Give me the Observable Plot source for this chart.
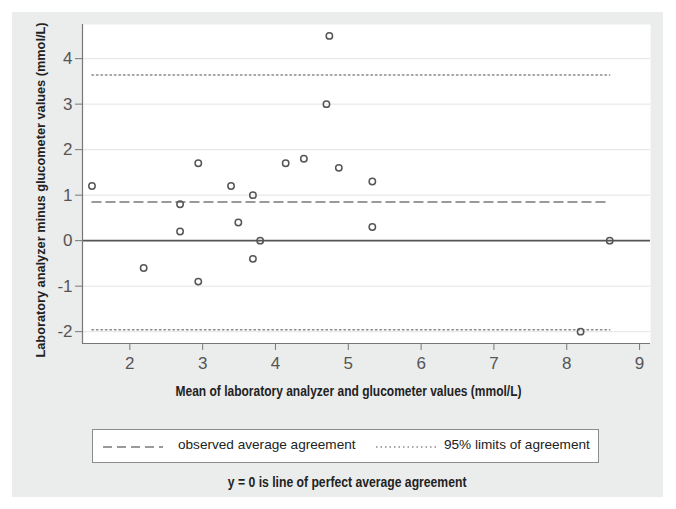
<!DOCTYPE html>
<html><head><meta charset="utf-8">
<script src="https://cdn.jsdelivr.net/npm/d3@7"></script>
<script src="https://cdn.jsdelivr.net/npm/@observablehq/plot@0.6"></script>
<style>
body{margin:0;background:#fff;width:676px;height:509px;position:relative;overflow:hidden;font-family:"Liberation Sans",Arial,sans-serif;}
#panel{position:absolute;left:12px;top:12px;width:651px;height:485px;background:#ebecec;}
#chart{position:absolute;left:0;top:-12px;}
#legend{position:absolute;left:80px;top:417px;width:505px;height:32px;background:#fff;border:1px solid #8c8c8c;}
#legend svg{position:absolute;top:0;left:0;}
.lt{position:absolute;top:7px;font-size:13.6px;color:#222;white-space:nowrap;}
#note{position:absolute;left:0;width:694px;top:474px;text-align:center;font-family:"Liberation Sans",Arial,sans-serif;font-weight:bold;font-size:14px;color:#222;}
#note span{display:inline-block;transform:scaleX(0.87);transform-origin:center;}
</style></head>
<body>
<div id="panel">
  <div id="chart"></div>
  <div id="legend">
    <svg width="505" height="32">
      <line x1="10" x2="70" y1="17" y2="17" stroke="#7a7a7a" stroke-width="1.5" stroke-dasharray="9,5"/>
      <line x1="283" x2="343" y1="17" y2="17" stroke="#8a8a8a" stroke-width="1.5" stroke-dasharray="1.5,3"/>
    </svg>
    <div class="lt" style="left:85px">observed average agreement</div>
    <div class="lt" style="left:351px">95% limits of agreement</div>
  </div>
</div>
<div id="note"><span>y = 0 is line of perfect average agreement</span></div>
<script>
// Data
const meanVals = [1.48, 2.19, 2.69, 2.69, 2.94, 2.94, 3.39, 3.49, 3.69, 3.69, 3.79, 4.14, 4.39, 4.70, 4.74, 4.87, 5.33, 5.33, 8.19, 8.59];
const diffVals = [1.2, -0.6, 0.8, 0.2, 1.7, -0.9, 1.2, 0.4, 1.0, -0.4, 0.0, 1.7, 1.8, 3.0, 4.5, 1.6, 1.3, 0.3, -2.0, 0.0];
const meanDiff = 0.85;
const limits = [3.64, -1.96];
const xTicks = [2, 3, 4, 5, 6, 7, 8, 9];
const yTicks = [-2, -1, 0, 1, 2, 3, 4];
const xTitle = "Mean of laboratory analyzer and glucometer values (mmol/L)";
const yTitle = "Laboratory analyzer minus glucometer values (mmol/L)";

const points = meanVals.map((m, i) => ({m, d: diffVals[i]}));
const [x0, x1] = d3.extent(meanVals);
const xDomain = [1.35, 9.15];
const yDomain = [-2.26, 4.75];
const seg = (y) => [{x: x0, y}, {x: x1, y}];
const fmt = d => String(d);

const chart = Plot.plot({
  width: 651,
  height: 412,
  marginLeft: 70,
  marginTop: 24,
  marginRight: 13,
  marginBottom: 69,
  style: {background: "transparent", fontFamily: "'Liberation Sans', Arial, sans-serif", fontSize: "17px", color: "#444"},
  x: {domain: xDomain},
  y: {domain: yDomain},
  marks: [
    Plot.frame({fill: "white", stroke: "none"}),
    Plot.ruleY(yTicks, {stroke: "#e4e4e4", strokeWidth: 1}),
    Plot.ruleY([0], {stroke: "#555", strokeWidth: 1.8}),
    Plot.line(seg(meanDiff), {x: "x", y: "y", stroke: "#7a7a7a", strokeWidth: 1.5, strokeDasharray: "9,5"}),
    ...limits.map(v => Plot.line(seg(v), {x: "x", y: "y", stroke: "#8a8a8a", strokeWidth: 1.5, strokeDasharray: "1.5,3"})),
    Plot.dot(points, {x: "m", y: "d", r: 3.2, stroke: "#555", strokeWidth: 1.5, fill: "none"}),
    Plot.ruleX([xDomain[0]], {stroke: "#777", strokeWidth: 1.2}),
    Plot.ruleY([yDomain[0]], {stroke: "#777", strokeWidth: 1.2}),
    Plot.axisY({ticks: yTicks, tickFormat: fmt, tickSize: 7, tickPadding: 3, label: null, stroke: "#777", fill: "#555", fontSize: 17}),
    Plot.axisX({ticks: xTicks, tickFormat: fmt, tickSize: 7, tickPadding: 6, label: null, stroke: "#777", fill: "#555", fontSize: 17}),
    Plot.text([yTitle], {frameAnchor: "left", textAnchor: "middle", rotate: -90, dx: -42, dy: 6, fontSize: 13, fontWeight: "bold", fill: "#222"}),
    Plot.text([xTitle], {frameAnchor: "bottom", textAnchor: "middle", dx: -18, dy: 52, fontSize: 14, fontWeight: "bold", fill: "#222"})
  ]
});
d3.select(chart).selectAll("g[aria-label$='tick label']").style("font-size", "17px");
d3.select(chart).selectAll("g[aria-label$='tick label'] text").style("font-size", "17px");
d3.select(chart).selectAll("text").each(function() {
  const t = this.textContent;
  if (t === yTitle) d3.select(this).attr("textLength", 335).attr("lengthAdjust", "spacingAndGlyphs");
  if (t === xTitle) d3.select(this).attr("textLength", 346).attr("lengthAdjust", "spacingAndGlyphs");
});
document.getElementById("chart").appendChild(chart);
</script>
</body></html>
